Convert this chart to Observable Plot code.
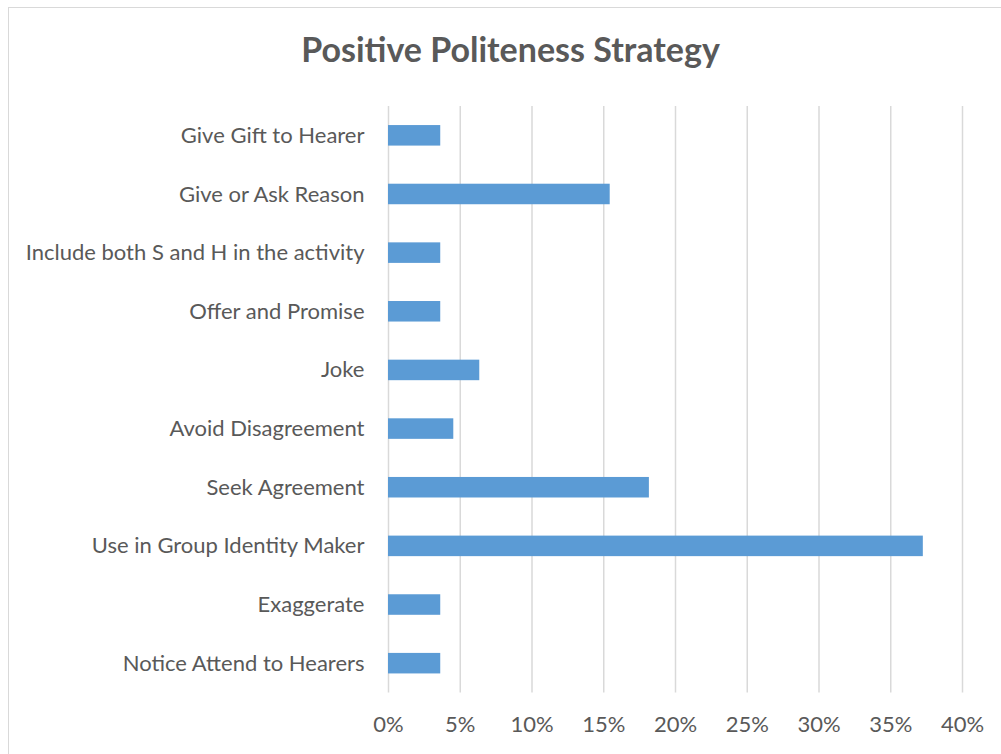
<!DOCTYPE html>
<html>
<head>
<meta charset="utf-8">
<script src="https://cdn.jsdelivr.net/npm/d3@7"></script>
<script src="https://cdn.jsdelivr.net/npm/@observablehq/plot@0.6"></script>
<style>
  body { margin: 0; background: #fff; }
  #frame { position: relative; width: 1001px; height: 754px; overflow: hidden; font-family: Lato, "Open Sans", sans-serif; }
  #border { position: absolute; left: 8px; top: 7px; width: 1100px; height: 800px; border-left: 1.5px solid #D9D9D9; border-top: 1.5px solid #D9D9D9; }
  #title { position: absolute; left: 8px; width: 1005px; top: 28px; text-align: center; font-size: 34px; font-weight: bold; color: #595959; }
  #chart { position: absolute; left: 0; top: 90px; }
</style>
</head>
<body>
<div id="frame">
  <div id="border"></div>
  <div id="title">Positive Politeness Strategy</div>
  <div id="chart"></div>
</div>
<script>
const categories = [
  "Give Gift to Hearer",
  "Give or Ask Reason",
  "Include both S and H in the activity",
  "Offer and Promise",
  "Joke",
  "Avoid Disagreement",
  "Seek Agreement",
  "Use in Group Identity Maker",
  "Exaggerate",
  "Notice Attend to Hearers"
];
const values = [3.64, 15.45, 3.64, 3.64, 6.36, 4.55, 18.18, 37.27, 3.64, 3.64];
const xTicks = [0, 5, 10, 15, 20, 25, 30, 35, 40];

const data = categories.map((c, i) => ({category: c, value: values[i]}));

const chart = Plot.plot({
  width: 1001,
  height: 664,
  marginTop: 16,
  marginBottom: 61.5,
  marginLeft: 388,
  marginRight: 39,
  style: {fontFamily: "Lato, 'Open Sans', sans-serif", fontSize: "22px", color: "#595959", background: "transparent"},
  x: {domain: [0, 40], ticks: xTicks, tickFormat: d => d + "%", tickSize: 0, label: null},
  y: {domain: categories, paddingInner: 0.65, paddingOuter: 0.325, round: false, tickSize: 0, label: null},
  marks: [
    Plot.ruleX(xTicks, {stroke: "#D9D9D9", strokeWidth: 1.5}),
    Plot.barX(data, {x: "value", y: "category", fill: "#5B9BD5"}),
    Plot.axisX({ticks: xTicks, tickFormat: d => d + "%", tickSize: 0, tickPadding: 23.5, fill: "#595959", fontSize: 22}),
    Plot.axisY({tickSize: 0, tickPadding: 24, fill: "#595959", fontSize: 22})
  ]
});
document.getElementById("chart").appendChild(chart);
</script>
</body>
</html>
